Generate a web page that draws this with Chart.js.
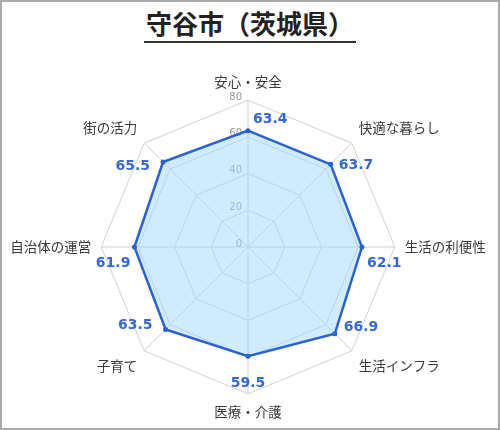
<!DOCTYPE html>
<html>
<head>
<meta charset="utf-8">
<script src="https://cdn.jsdelivr.net/npm/chart.js@4"></script>
<style>
  html, body { margin: 0; padding: 0; background: #fff; }
  #frame {
    position: relative; width: 500px; height: 430px; box-sizing: border-box;
    border: 2px solid #aaa; background: #fff; overflow: hidden;
  }
  #title {
    position: absolute; left: 0; right: 0; top: 5px; text-align: center;
  }
  #title span {
    display: inline-block; font-family: "Noto Sans CJK JP", sans-serif; font-weight: bold;
    font-size: 26px; line-height: 32px; color: #222; border-bottom: 2px solid #333;
    padding: 0 2px 2px 2px;
  }
  #radar { position: absolute; left: 0; top: 48px; }
</style>
</head>
<body>
<div id="frame">
  <div id="title"><span>守谷市（茨城県）</span></div>
  <canvas id="radar" width="496" height="378"></canvas>
</div>
<script>
// 項目と値
const categories = ['安心・安全', '快適な暮らし', '生活の利便性', '生活インフラ', '医療・介護', '子育て', '自治体の運営', '街の活力'];
const scores = [63.4, 63.7, 62.1, 66.9, 59.5, 63.5, 61.9, 65.5];
const tickValues = [0, 20, 40, 60, 80];

// 値ラベルの位置ずらし (dx, dy, 揃え)
const labelOffsets = [
    [5, -11, 'left'], [8, 1, 'left'], [5, 16, 'left'], [9, -6, 'left'],
    [0, 27, 'center'], [-13, -4, 'right'], [-4, 16, 'right'], [-13, 4, 'right']
];

// 目盛りの数字を軸の左側に描く
const tickPlugin = {
    id: 'tickLabels',
    beforeDatasetsDraw(chart) {
        const scale = chart.scales.r;
        const ctx = chart.ctx;
        ctx.save();
        ctx.font = '10px "DejaVu Sans", sans-serif';
        ctx.fillStyle = '#999';
        ctx.textAlign = 'right';
        ctx.textBaseline = 'middle';
        tickValues.forEach(v => {
            const d = scale.getDistanceFromCenterForValue(v);
            ctx.fillText(String(v), scale.xCenter - 6, scale.yCenter - d - 3);
        });
        ctx.restore();
    }
};

// データの数値ラベル
const valuePlugin = {
    id: 'valueLabels',
    afterDatasetsDraw(chart) {
        const ctx = chart.ctx;
        const meta = chart.getDatasetMeta(0);
        ctx.save();
        ctx.font = 'bold 14px "DejaVu Sans", sans-serif';
        ctx.fillStyle = '#3168dc';
        ctx.textBaseline = 'middle';
        meta.data.forEach((pt, i) => {
            const [dx, dy, align] = labelOffsets[i];
            ctx.textAlign = align;
            ctx.fillText(scores[i].toFixed(1), pt.x + dx, pt.y + dy);
        });
        ctx.restore();
    }
};

new Chart(document.getElementById('radar'), {
    type: 'radar',
    data: {
        labels: categories,
        datasets: [{
            data: scores,
            borderColor: '#2a62d6',
            backgroundColor: 'rgba(160, 215, 250, 0.5)',
            borderWidth: 2.5,
            pointRadius: 2.5,
            pointBackgroundColor: '#2a62d6',
            pointBorderWidth: 0
        }]
    },
    options: {
        responsive: false,
        animation: false,
        layout: { padding: { left: 4, right: 8, top: 24, bottom: 7 } },
        plugins: {
            legend: { display: false },
            tooltip: { enabled: false }
        },
        scales: {
            r: {
                min: 0,
                max: 80,
                ticks: { stepSize: 20, display: false },
                grid: { color: '#cfcfcf', lineWidth: 1 },
                angleLines: { color: '#cfcfcf', lineWidth: 1 },
                pointLabels: {
                    font: { family: '"Noto Sans CJK JP", sans-serif', size: 13.5 },
                    color: '#3a3a3a',
                    padding: 10
                }
            }
        }
    },
    plugins: [tickPlugin, valuePlugin]
});
</script>
</body>
</html>
